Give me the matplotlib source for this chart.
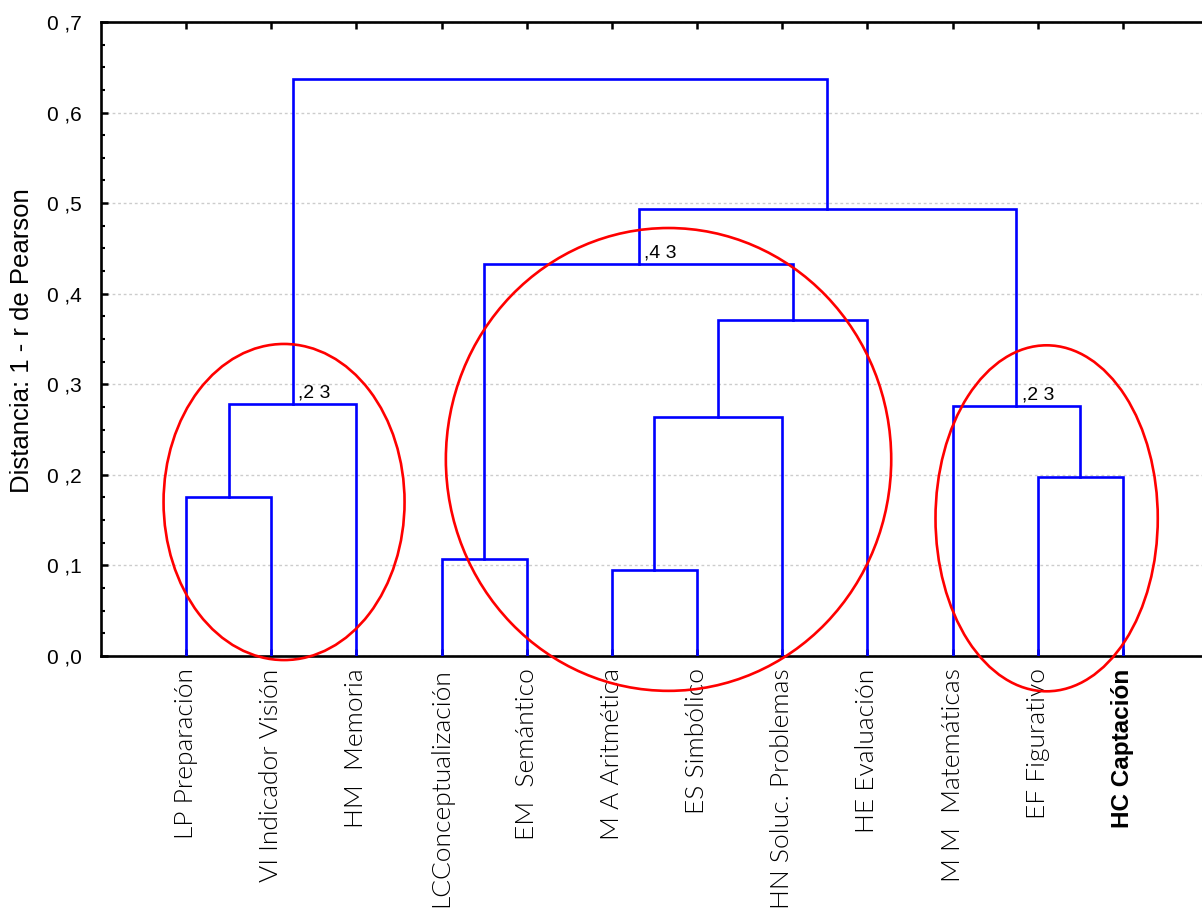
import matplotlib
matplotlib.use("Agg")
import matplotlib.pyplot as plt
from matplotlib.patches import Ellipse
from matplotlib import font_manager

# leaves, left to right as they appear under the tree
leaf_labels = ["LP Preparación", "VI Indicador Visión", "HM  Memoria",
               "LCConceptualización", "EM  Semántico", "M A Aritmética",
               "ES Simbólico", "HN Soluc. Problemas", "HE Evaluación",
               "M M  Matemáticas", "EF Figurativo", "HC Captación"]

# joins: (left id, right id); ids >= 12 are clusters made by earlier joins
merge_pairs = [(0, 1), (3, 4), (5, 6), (10, 11), (14, 7), (9, 15),
               (12, 2), (16, 8), (13, 19), (20, 17), (18, 21)]
merge_heights = [0.175, 0.107, 0.095, 0.198, 0.264, 0.276,
                 0.278, 0.371, 0.433, 0.493, 0.637]

# node labels: (join index, text)
node_notes = [(6, ",2 3"), (8, ",4 3"), (5, ",2 3")]

# groups circled by hand: centre x, centre y, width, height (data units)
groups = [(2.15, 0.170, 2.83, 0.349),
          (6.665, 0.217, 5.23, 0.511),
          (11.105, 0.152, 2.61, 0.382)]

ytick_vals = [0.0, 0.1, 0.2, 0.3, 0.4, 0.5, 0.6, 0.7]
ytick_text = ["0 ,0", "0 ,1", "0 ,2", "0 ,3", "0 ,4", "0 ,5", "0 ,6", "0 ,7"]


def pick(*names):
    have = {f.name for f in font_manager.fontManager.ttflist}
    for n in names:
        if n in have:
            return n
    return "DejaVu Sans"


narrow = pick("Liberation Sans Narrow", "DejaVu Sans Condensed", "Liberation Sans")
plain = pick("Liberation Sans", "Arial", "DejaVu Sans")
light = pick("Lato", "Open Sans", "Noto Sans")

fig = plt.figure(figsize=(12.02, 9.19), dpi=100)
ax = fig.add_axes([0.084, 0.2862, 0.921, 0.6899])

n = len(leaf_labels)
xpos = {i: i + 1.0 for i in range(n)}
ypos = {i: 0.0 for i in range(n)}
blue = "#0000ff"
for k, ((a, b), h) in enumerate(zip(merge_pairs, merge_heights)):
    xa, xb = xpos[a], xpos[b]
    ax.plot([xa, xa, xb, xb], [ypos[a], h, h, ypos[b]], color=blue, lw=1.9,
            solid_joinstyle="miter", zorder=3)
    xpos[n + k] = (xa + xb) / 2
    ypos[n + k] = h

for k, txt in node_notes:
    ax.text(xpos[n + k] + 0.06, merge_heights[k] + 0.003, txt,
            family=narrow, fontsize=14, va="bottom", ha="left", zorder=4)

for cx, cy, w, h in groups:
    ax.add_patch(Ellipse((cx, cy), w, h, fill=False, edgecolor="#ff0000",
                         lw=1.9, clip_on=False, zorder=5))

ax.set_xlim(0, 13)
ax.set_ylim(0, 0.7)
ax.set_yticks(ytick_vals)
ax.set_yticklabels(ytick_text, family=narrow, fontsize=15)
ax.set_yticks([v / 40 for v in range(29)], minor=True)
ax.set_xticks(range(1, n + 1))
ax.set_xticklabels(leaf_labels, rotation=90, fontsize=19, family=light,
                   fontweight=300)
lbls = ax.get_xticklabels()
lbls[-1].set_family(plain)
lbls[-1].set_fontweight("bold")
lbls[-1].set_fontsize(17.5)

ax.tick_params(axis="y", which="major", direction="in", length=5, width=1.8,
               pad=14)
ax.tick_params(axis="y", which="minor", direction="in", length=3, width=1.5)
ax.tick_params(axis="x", which="major", direction="in", length=5, width=1.8,
               top=True, pad=9)
ax.grid(axis="y", color="#cccccc", lw=1, linestyle=(0, (2, 2)))
ax.set_axisbelow(True)

for side in ["left", "bottom", "top"]:
    ax.spines[side].set_linewidth(1.9)
ax.spines["right"].set_visible(False)

fig.text(22 / 1202, 1 - 341 / 919, "Distancia: 1 - r de Pearson",
         family=plain, fontsize=18.5, rotation=90, ha="center", va="center")

fig.savefig("out.png", dpi=100)
